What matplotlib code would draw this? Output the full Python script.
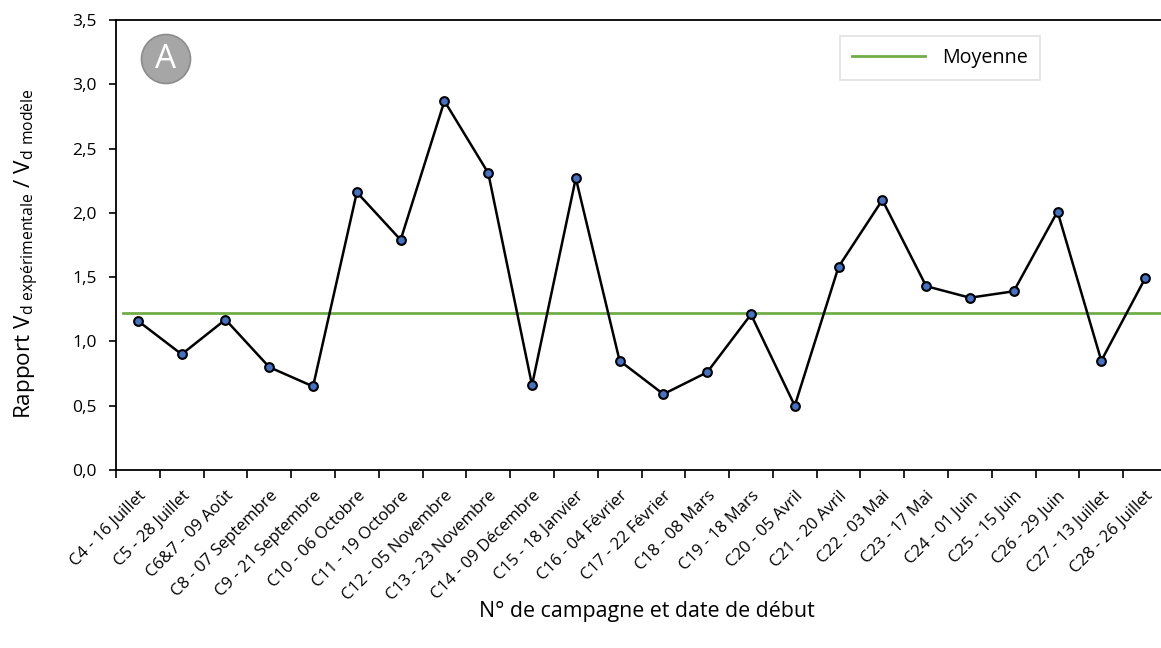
import matplotlib.pyplot as plt
from matplotlib.patches import Circle

# campaign labels and ratio values
campagnes = ["C4 - 16 Juillet", "C5 - 28 Juillet", "C6&7 - 09 Août", "C8 - 07 Septembre",
             "C9 - 21 Septembre", "C10 - 06 Octobre", "C11 - 19 Octobre", "C12 - 05 Novembre",
             "C13 - 23 Novembre", "C14 - 09 Décembre", "C15 - 18 Janvier", "C16 - 04 Février",
             "C17 - 22 Février", "C18 - 08 Mars", "C19 - 18 Mars", "C20 - 05 Avril",
             "C21 - 20 Avril", "C22 - 03 Mai", "C23 - 17 Mai", "C24 - 01 Juin",
             "C25 - 15 Juin", "C26 - 29 Juin", "C27 - 13 Juillet", "C28 - 26 Juillet"]
rapport = [1.16, 0.90, 1.17, 0.80, 0.65, 2.16, 1.79, 2.87, 2.31, 0.66, 2.27, 0.85,
           0.59, 0.76, 1.21, 0.50, 1.58, 2.10, 1.43, 1.34, 1.39, 2.01, 0.85, 1.49]
moyenne = 1.22
y_ticks = [0.0, 0.5, 1.0, 1.5, 2.0, 2.5, 3.0, 3.5]

plt.rcParams['font.family'] = ['Open Sans', 'DejaVu Sans']

fig = plt.figure(figsize=(11.61, 6.48), dpi=100)
ax = fig.add_axes([116 / 1161, 1 - 470 / 648, (1167 - 116) / 1161, 450 / 648])

x = list(range(len(campagnes)))
ax.plot(x, rapport, '-o', color='black', linewidth=1.8, markersize=6.3,
        markerfacecolor='#4472c4', markeredgecolor='black', markeredgewidth=1.5,
        zorder=3)
ax.plot([-0.35, len(campagnes)], [moyenne, moyenne], color='#70ad47', linewidth=2,
        label='Moyenne', zorder=2)

ax.set_xlim(-0.5, len(campagnes) - 0.5)
ax.set_ylim(0, 3.5)
ax.set_yticks(y_ticks)
ax.set_yticklabels([f"{v:.1f}".replace('.', ',') for v in y_ticks], fontsize=12.5)

# category ticks between points, labels under each point
ax.set_xticks([i - 0.5 for i in range(len(campagnes) + 1)])
ax.set_xticklabels([])
ax.set_xticks(x, minor=True)
ax.set_xticklabels(campagnes, minor=True, rotation=45, ha='right',
                   rotation_mode='anchor', fontsize=12)
ax.tick_params(axis='x', which='minor', length=0, pad=13)
ax.tick_params(axis='x', which='major', length=6, width=1.2, direction='out')
ax.tick_params(axis='y', length=5, width=1.2, direction='out', pad=9)

for s in ax.spines.values():
    s.set_linewidth(1.3)

ax.set_xlabel("N° de campagne et date de début", fontsize=15.4, va='center')
ax.xaxis.set_label_coords((647 - 116) / 1051, (470 - 611) / 450)
ax.set_ylabel(r"Rapport V$_{\mathregular{d\ expérimentale}}$ / V$_{\mathregular{d\ modèle}}$",
              fontsize=16.2, va='center')
ax.yaxis.set_label_coords((27 - 116) / 1051, (470 - 254) / 450)

# the "A" badge
badge = Circle((166, 648 - 59), 24.5, transform=None, facecolor='#a6a6a6',
               edgecolor='#8c8c8c', linewidth=1.2, zorder=5)
fig.patches.append(badge)
fig.text(166 / 1161, 1 - 60 / 648, "A", color='white', fontsize=24,
         ha='center', va='center', zorder=6)

leg = ax.legend(loc='upper left', bbox_to_anchor=((840 - 116) / 1051, 1 - 16 / 450),
                frameon=True, fancybox=False, fontsize=14.2, handlelength=3.7,
                handletextpad=0.9, borderpad=0.6, borderaxespad=0)
leg.get_frame().set_edgecolor('#d9d9d9')
leg.get_frame().set_linewidth(1.2)

fig.savefig("out.png", dpi=100)
